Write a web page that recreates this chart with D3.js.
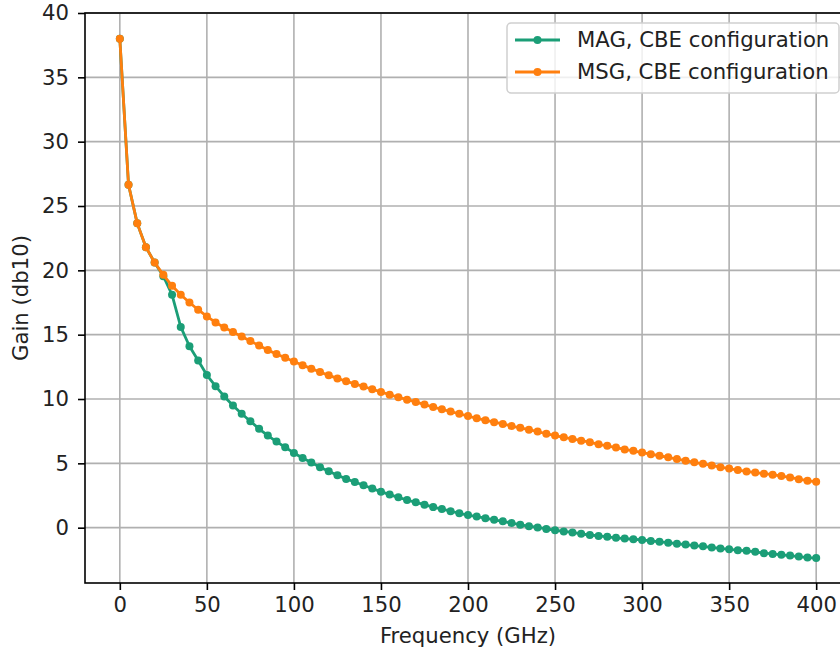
<!DOCTYPE html>
<html>
<head>
<meta charset="utf-8">
<script src="https://cdn.jsdelivr.net/npm/d3@7"></script>
<style>
  html, body { margin: 0; padding: 0; background: #fff; }
  svg { display: block; font-family: "DejaVu Sans", sans-serif; }
</style>
</head>
<body>
<svg id="chart" width="840" height="650"></svg>
<script>
// Frequency sweep (GHz)
const frequency = [
  0, 5, 10, 15, 20, 25, 30, 35, 40, 45, 50, 55, 60, 65, 70, 75, 80, 85, 90, 95,
  100, 105, 110, 115, 120, 125, 130, 135, 140, 145, 150, 155, 160, 165, 170, 175, 180, 185, 190, 195,
  200, 205, 210, 215, 220, 225, 230, 235, 240, 245, 250, 255, 260, 265, 270, 275, 280, 285, 290, 295,
  300, 305, 310, 315, 320, 325, 330, 335, 340, 345, 350, 355, 360, 365, 370, 375, 380, 385, 390, 395,
  400
];

// Maximum available gain (dB), CBE configuration
const magGain = [
  38.0, 26.65, 23.65, 21.8, 20.6, 19.55, 18.1, 15.6, 14.1, 13.0, 11.86, 11.0, 10.2, 9.5, 8.85, 8.27, 7.68, 7.16, 6.69, 6.25,
  5.81, 5.42, 5.06, 4.7, 4.38, 4.07, 3.79, 3.55, 3.3, 3.04, 2.8, 2.57, 2.36, 2.15, 1.97, 1.79, 1.6, 1.45, 1.28, 1.12,
  0.98, 0.86, 0.74, 0.61, 0.49, 0.36, 0.23, 0.11, 0.02, -0.1, -0.2, -0.29, -0.37, -0.48, -0.57, -0.64, -0.71, -0.79, -0.85, -0.9,
  -0.95, -1.03, -1.1, -1.17, -1.25, -1.31, -1.39, -1.45, -1.54, -1.61, -1.68, -1.75, -1.8, -1.88, -1.98, -2.04, -2.11, -2.17, -2.25, -2.32,
  -2.36
];

// Maximum stable gain (dB), CBE configuration
const msgGain = [
  38.0, 26.65, 23.65, 21.8, 20.6, 19.65, 18.8, 18.1, 17.5, 16.94, 16.42, 15.95, 15.56, 15.2, 14.86, 14.5, 14.15, 13.8, 13.5, 13.2,
  12.92, 12.63, 12.36, 12.1, 11.84, 11.6, 11.38, 11.17, 10.97, 10.76, 10.55, 10.33, 10.14, 9.95, 9.77, 9.57, 9.38, 9.2, 9.03, 8.85,
  8.68, 8.5, 8.35, 8.2, 8.06, 7.9, 7.76, 7.62, 7.47, 7.3, 7.16, 7.02, 6.9, 6.76, 6.64, 6.48, 6.36, 6.23, 6.08, 5.97,
  5.84, 5.71, 5.59, 5.47, 5.33, 5.21, 5.08, 4.96, 4.84, 4.7, 4.59, 4.48, 4.37, 4.28, 4.2, 4.12, 4.01, 3.9, 3.77, 3.65,
  3.56
];

const seriesNames = ["MAG, CBE configuration", "MSG, CBE configuration"];
const seriesColors = ["#1b9e77", "#ff7f0e"];
const xTicks = [0, 50, 100, 150, 200, 250, 300, 350, 400];
const yTicks = [0, 5, 10, 15, 20, 25, 30, 35, 40];

const svg = d3.select("#chart");
const plotLeft = 85, plotRight = 851, plotTop = 13, plotBottom = 583;
const fontSize = 21.2;

const x = d3.scaleLinear().domain([-20, 420]).range([plotLeft, plotRight]);
const y = d3.scaleLinear().domain([-4.3, 40]).range([plotBottom, plotTop]);

// grid
const grid = svg.append("g");
grid.selectAll("line.gx").data(xTicks).join("line")
  .attr("class", "gx")
  .attr("x1", d => x(d)).attr("x2", d => x(d))
  .attr("y1", plotTop).attr("y2", plotBottom)
  .attr("stroke", "#b0b0b0").attr("stroke-width", 1.6);
grid.selectAll("line.gy").data(yTicks).join("line")
  .attr("class", "gy")
  .attr("x1", plotLeft).attr("x2", plotRight)
  .attr("y1", d => y(d)).attr("y2", d => y(d))
  .attr("stroke", "#b0b0b0").attr("stroke-width", 1.6);

// data series
const series = [
  { name: seriesNames[0], color: seriesColors[0], values: magGain },
  { name: seriesNames[1], color: seriesColors[1], values: msgGain }
];
const line = d3.line().x(d => x(d[0])).y(d => y(d[1]));
series.forEach(s => {
  const pts = frequency.map((f, i) => [f, s.values[i]]);
  const g = svg.append("g");
  g.append("path").datum(pts)
    .attr("d", line)
    .attr("fill", "none")
    .attr("stroke", s.color)
    .attr("stroke-width", 2.8)
    .attr("stroke-linejoin", "round")
    .attr("stroke-linecap", "round");
  g.selectAll("circle").data(pts).join("circle")
    .attr("cx", d => x(d[0])).attr("cy", d => y(d[1]))
    .attr("r", 4)
    .attr("fill", s.color);
});

// axes
const xAxis = d3.axisBottom(x).tickValues(xTicks).tickSize(7).tickPadding(7).tickSizeOuter(0);
const yAxis = d3.axisLeft(y).tickValues(yTicks).tickSize(7).tickPadding(9).tickSizeOuter(0);

const gx = svg.append("g").attr("transform", `translate(0,${plotBottom})`).call(xAxis);
const gy = svg.append("g").attr("transform", `translate(${plotLeft},0)`).call(yAxis);
[gx, gy].forEach(g => {
  g.select(".domain").remove();
  g.selectAll(".tick line").attr("stroke", "#000").attr("stroke-width", 1.6);
  g.selectAll(".tick text")
    .attr("fill", "#222")
    .style("font-size", fontSize + "px")
    .style("font-family", "DejaVu Sans, sans-serif");
});

// spines
svg.append("rect")
  .attr("x", plotLeft).attr("y", plotTop)
  .attr("width", plotRight - plotLeft).attr("height", plotBottom - plotTop)
  .attr("fill", "none").attr("stroke", "#000").attr("stroke-width", 1.6);

// axis labels
svg.append("text")
  .attr("x", (plotLeft + plotRight) / 2).attr("y", 643)
  .attr("text-anchor", "middle")
  .style("font-size", fontSize + "px").attr("fill", "#222")
  .text("Frequency (GHz)");
svg.append("text")
  .attr("transform", `translate(28,${(plotTop + plotBottom) / 2}) rotate(-90)`)
  .attr("text-anchor", "middle")
  .style("font-size", fontSize + "px").attr("fill", "#222")
  .text("Gain (db10)");

// legend
const legend = svg.append("g");
legend.append("rect")
  .attr("x", 507).attr("y", 23)
  .attr("width", 332).attr("height", 70)
  .attr("rx", 4).attr("ry", 4)
  .attr("fill", "rgba(255,255,255,0.8)")
  .attr("stroke", "#d0d0d0").attr("stroke-width", 1.5);
series.forEach((s, i) => {
  const ly = 40 + i * 32;
  legend.append("line")
    .attr("x1", 515).attr("x2", 560).attr("y1", ly).attr("y2", ly)
    .attr("stroke", s.color).attr("stroke-width", 2.8);
  legend.append("circle")
    .attr("cx", 537.5).attr("cy", ly).attr("r", 4).attr("fill", s.color);
  legend.append("text")
    .attr("x", 577).attr("y", ly).attr("dy", "0.35em")
    .style("font-size", fontSize + "px").attr("fill", "#222")
    .text(s.name);
});
</script>
</body>
</html>
